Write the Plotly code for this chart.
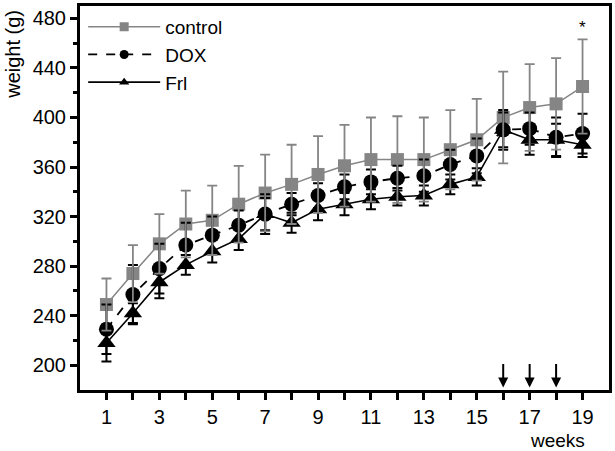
import plotly.graph_objects as go

weeks = list(range(1, 20))
tick_text = [str(w) if w % 2 == 1 else "" for w in weeks]

control = [249, 274, 298, 314, 317, 330, 339, 346, 354, 361, 366, 366, 366, 374, 382, 400, 408, 411, 425]
control_err = [21, 23, 24, 27, 28, 31, 31, 32, 31, 33, 34, 35, 34, 32, 33, 37, 35, 37, 38]

dox = [229, 257, 278, 297, 305, 313, 322, 330, 337, 344, 348, 351, 353, 362, 369, 390, 391, 384, 387]
dox_err = [20, 24, 20, 18, 15, 12, 13, 9, 10, 10, 10, 10, 13, 12, 14, 16, 13, 16, 16]

frl = [218, 242, 267, 281, 292, 302, 322, 315, 326, 330, 334, 336, 337, 346, 352, 390, 382, 382, 378]
frl_err = [15, 8, 13, 8, 9, 9, 16, 8, 9, 9, 8, 7, 8, 8, 7, 14, 12, 13, 10]

y_ticks = [200, 240, 280, 320, 360, 400, 440, 480]
arrow_weeks = [16, 17, 18]
star_week = 19

GRAY = "#858585"
FONT = "Liberation Sans, Arial, sans-serif"

series = [
    ("control", control, control_err, GRAY, dict(color=GRAY, width=1.5), "square", 13, 1.8),
    ("DOX", dox, dox_err, "black", dict(color="black", width=1.8, dash="dash"), "circle", 15, 2),
    ("Frl", frl, frl_err, "black", dict(color="black", width=1.6), "triangle-up", 16, 2),
]

fig = go.Figure()

# data lines + markers
for name, vals, errs, col, line, sym, size, th in series:
    fig.add_trace(go.Scatter(x=weeks, y=vals, name=name, mode="lines+markers",
                             line=line, showlegend=False,
                             marker=dict(symbol=sym, size=size, color=col)))

# error bars drawn on top (DOX, Frl, then control)
for name, vals, errs, col, line, sym, size, th in [series[1], series[2], series[0]]:
    fig.add_trace(go.Scatter(x=weeks, y=vals, mode="markers", showlegend=False,
                             marker=dict(size=2, opacity=0),
                             error_y=dict(type="data", array=errs, visible=True,
                                          color=col, thickness=th, width=5),
                             hoverinfo="skip"))

# legend-only entries (small symbols as in the reference)
for name, vals, errs, col, line, sym, size, th in series:
    fig.add_trace(go.Scatter(x=[None], y=[None], name=name, mode="lines+markers",
                             line=line, marker=dict(symbol=sym, size=9, color=col)))

# arrows
for w in arrow_weeks:
    fig.add_annotation(x=w, y=182, xref="x", yref="y", text="", showarrow=True,
                       arrowhead=2, arrowsize=1, arrowwidth=2, arrowcolor="black",
                       ax=0, ay=-25)

# significance star
fig.add_annotation(x=star_week, y=control[-1] + control_err[-1], xref="x", yref="y",
                   text="*", showarrow=False, yshift=12, yanchor="middle",
                   font=dict(family=FONT, size=17, color="black"))

# axis titles as annotations
fig.add_annotation(x=-0.127, y=0.875, xref="paper", yref="paper", text="weight (g)",
                   textangle=-90, showarrow=False, xanchor="center", yanchor="middle",
                   font=dict(family=FONT, size=20, color="black"))
fig.add_annotation(x=0.903, y=-0.132, xref="paper", yref="paper", text="weeks",
                   showarrow=False, xanchor="center", yanchor="middle",
                   font=dict(family=FONT, size=19, color="black"))

fig.update_layout(
    width=615, height=451,
    margin=dict(l=80, r=3, t=3, b=61),
    paper_bgcolor="white", plot_bgcolor="white",
    font=dict(family=FONT, size=19, color="black"),
    showlegend=True,
    legend=dict(x=0.006, y=0.995, xanchor="left", yanchor="top",
                bgcolor="rgba(0,0,0,0)", font=dict(family=FONT, size=19),
                itemwidth=72, tracegroupgap=0),
    xaxis=dict(range=[0, 20], tickvals=weeks, ticktext=tick_text,
               showline=True, linecolor="black", linewidth=3, mirror=True,
               ticks="outside", ticklen=7, tickwidth=3, tickcolor="black",
               showgrid=False, zeroline=False,
               tickfont=dict(family=FONT, size=20)),
    yaxis=dict(range=[180, 490], tickvals=y_ticks,
               showline=True, linecolor="black", linewidth=3, mirror=True,
               ticks="outside", ticklen=7, tickwidth=3, tickcolor="black",
               minor=dict(tickvals=[220, 260, 300, 340, 380, 420, 460], ticks="outside",
                          ticklen=4, tickwidth=3, tickcolor="black"),
               showgrid=False, zeroline=False,
               tickfont=dict(family=FONT, size=20)),
)

fig.write_html("out.html", config={"displayModeBar": False},
               post_script="document.body.style.margin='0';")
